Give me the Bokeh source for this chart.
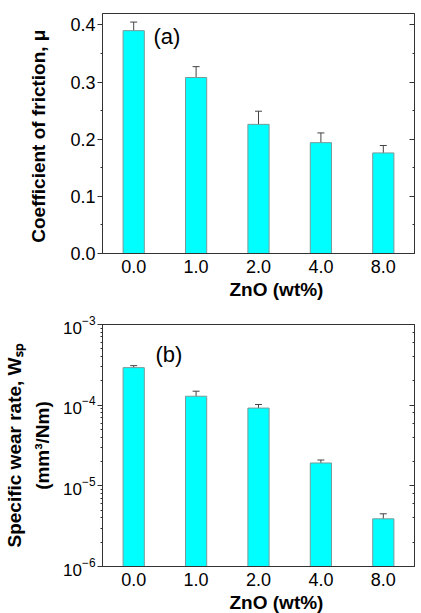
from bokeh.plotting import figure
from bokeh.models import (ColumnDataSource, Whisker, TeeHead, FixedTicker, LinearAxis,
                          LogAxis, Label, Title, FactorRange, Range1d, PrintfTickFormatter,
                          CustomLabelingPolicy)
from bokeh.layouts import column
from bokeh.embed import file_html
from bokeh.resources import INLINE

# ---- data ----
zno = ["0.0", "1.0", "2.0", "4.0", "8.0"]
cof = [0.390, 0.308, 0.226, 0.194, 0.176]
cof_err = [0.015, 0.019, 0.023, 0.017, 0.013]
wear = [2.92e-4, 1.29e-4, 9.2e-5, 1.92e-5, 3.9e-6]
wear_err = [0.17e-4, 0.20e-4, 1.0e-5, 0.17e-5, 0.6e-6]
cof_ticks = [0.0, 0.1, 0.2, 0.3, 0.4]
cof_minor = [0.05, 0.15, 0.25, 0.35]

FONT = "Liberation Sans"
BAR = "#00FFFF"
BAR_LINE = "#7a9a9a"
AX = "#333333"

src1 = ColumnDataSource(dict(zno=zno, v=cof,
                             lo=[a - b for a, b in zip(cof, cof_err)],
                             hi=[a + b for a, b in zip(cof, cof_err)]))
src2 = ColumnDataSource(dict(zno=zno, v=wear,
                             lo=[a - b for a, b in zip(wear, wear_err)],
                             hi=[a + b for a, b in zip(wear, wear_err)]))


def style_common(p):
    p.xgrid.grid_line_color = None
    p.ygrid.grid_line_color = None
    p.outline_line_color = AX
    p.outline_line_width = 1
    p.outline_line_alpha = 1
    p.background_fill_color = "white"
    p.border_fill_color = "white"
    xa = p.xaxis[0]
    xa.major_tick_line_color = None
    xa.minor_tick_line_color = None
    xa.axis_line_color = AX
    xa.major_label_text_font = FONT
    xa.major_label_text_font_size = "18px"
    xa.major_label_text_color = "black"
    xa.major_label_standoff = 0
    ya = p.yaxis[0]
    ya.axis_line_color = AX
    ya.major_tick_in = 0
    ya.major_tick_out = 5
    ya.minor_tick_in = 0
    ya.minor_tick_out = 2
    ya.major_tick_line_color = AX
    ya.minor_tick_line_color = AX
    ya.major_label_text_font = FONT
    ya.major_label_text_color = "black"
    ya.major_label_standoff = 2
    ya.axis_label_text_font = FONT
    ya.axis_label_text_font_style = "bold"
    ya.axis_label_text_font_size = "19px"
    ya.axis_label_text_color = "black"


def add_bars(p, src, bottom):
    p.vbar(x="zno", top="v", bottom=bottom, width=0.34, source=src,
           fill_color=BAR, line_color=BAR_LINE, line_width=1)
    w = Whisker(base="zno", lower="lo", upper="hi", source=src,
                line_color="#444444", line_width=1,
                upper_head=TeeHead(size=7, line_color="#444444", line_width=1),
                lower_head=TeeHead(size=7, line_color="#444444", line_width=1))
    p.add_layout(w)


def add_xtitle(p):
    t = Title(text="ZnO (wt%)", align="left", offset=127, text_font=FONT,
              text_font_size="19px", text_font_style="bold", text_color="black",
              standoff=2)
    p.add_layout(t, "below")


def right_axis(axis_cls, **kw):
    return axis_cls(major_tick_in=5, major_tick_out=0, minor_tick_in=2, minor_tick_out=0,
                    major_label_text_font_size="2px", axis_line_color=AX,
                    major_tick_line_color=AX, minor_tick_line_color=AX,
                    major_label_standoff=0,
                    major_label_policy=CustomLabelingPolicy(code="return []"), **kw)


# ---- panel (a) ----
p1 = figure(x_range=FactorRange(*zno), y_range=Range1d(0, 0.42),
            width=421, height=300, output_backend="svg", toolbar_location=None,
            min_border_left=97, min_border_right=1, min_border_top=13, min_border_bottom=46)
style_common(p1)
p1.yaxis[0].ticker = FixedTicker(ticks=cof_ticks, minor_ticks=cof_minor)
p1.yaxis[0].formatter = PrintfTickFormatter(format="%.1f")
p1.yaxis[0].major_label_text_font_size = "18px"
p1.yaxis[0].axis_label = "Coefficient of friction,  μ"
p1.yaxis[0].axis_label_standoff = 18
add_bars(p1, src1, 0)
p1.add_layout(right_axis(LinearAxis, ticker=FixedTicker(ticks=cof_ticks, minor_ticks=cof_minor)),
              "right")
add_xtitle(p1)
p1.add_layout(Label(x=51, y=217, x_units="screen", y_units="screen", text="(a)",
                    text_font=FONT, text_font_size="22px", text_baseline="middle",
                    text_color="black"))

# ---- panel (b) ----
p2 = figure(x_range=FactorRange(*zno), y_range=Range1d(1e-6, 1e-3), y_axis_type="log",
            width=421, height=313, output_backend="svg", toolbar_location=None,
            min_border_left=95, min_border_right=3, min_border_top=24, min_border_bottom=47)
style_common(p2)
p2.yaxis[0].major_label_text_font_size = "17px"
p2.yaxis[0].axis_label = "Specific wear rate, Wₛₚ\n(mm³/Nm)"
p2.yaxis[0].axis_label_standoff = 7
p2.yaxis[0].axis_label_text_line_height = 1.35
add_bars(p2, src2, 1e-6)
p2.add_layout(right_axis(LogAxis), "right")
add_xtitle(p2)
p2.add_layout(Label(x=53, y=212, x_units="screen", y_units="screen", text="(b)",
                    text_font=FONT, text_font_size="22px", text_baseline="middle",
                    text_color="black"))

layout = column(p1, p2, spacing=0)
open("out.html", "w").write(file_html(layout, INLINE))
